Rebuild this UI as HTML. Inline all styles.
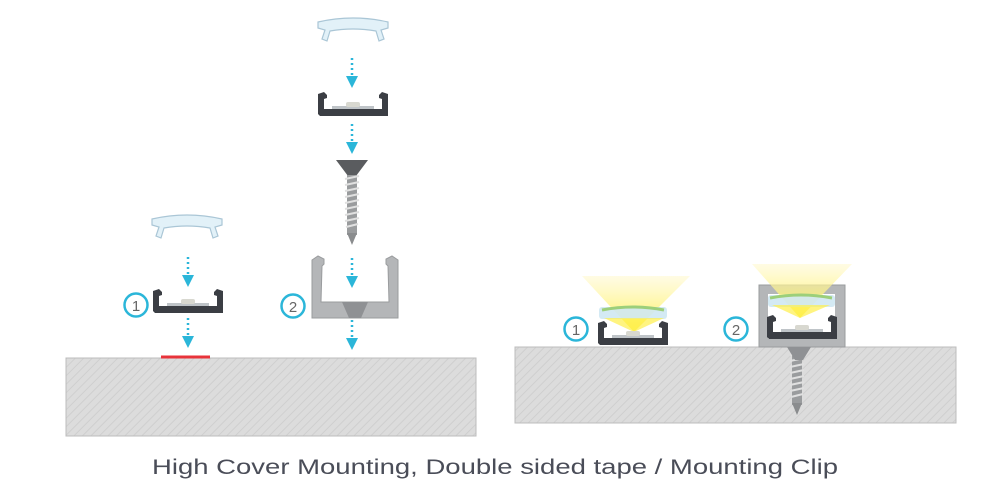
<!DOCTYPE html>
<html><head><meta charset="utf-8"><style>
html,body{margin:0;padding:0;background:#fff;width:1000px;height:500px;overflow:hidden}
</style></head><body>
<svg width="1000" height="500" viewBox="0 0 1000 500" xmlns="http://www.w3.org/2000/svg">
<defs>
<pattern id="hatch" width="6" height="6" patternUnits="userSpaceOnUse" patternTransform="rotate(45)">
<rect width="6" height="6" fill="#dcdcdc"/><line x1="0" y1="0" x2="0" y2="6" stroke="#cfcfcf" stroke-width="2"/>
</pattern>
<linearGradient id="cone" x1="0" y1="0" x2="0" y2="1">
<stop offset="0" stop-color="#fff8c8" stop-opacity="0.5"/><stop offset="1" stop-color="#fff04a"/>
</linearGradient>
<g id="cover">
<path d="M0,5 Q35,-3 70,5 L70,11 L63,13 L66,22 L61,24 L58,14 Q35,10 12,14 L9,24 L4,22 L7,13 L0,11 Z" fill="#e2f1f8" stroke="#aac6d6" stroke-width="1.2"/>
</g>
<g id="prof">
<path d="M0,2 L6,0 L9,3 L9,6 L6,7 L6,17 L64,17 L64,7 L61,6 L61,3 L64,0 L70,2 L70,24 L2,24 L0,22 Z" fill="#3b3e44"/>
<rect x="14" y="14" width="42" height="3" fill="#bfc4c8"/>
<rect x="28" y="10" width="14" height="5" rx="2" fill="#d8d8d0"/>
</g>
<g id="arrow">
<line x1="0" y1="0" x2="0" y2="20" stroke="#2bb6d9" stroke-width="2.5" stroke-dasharray="2 3"/>
<path d="M-6,18 L6,18 L0,30 Z" fill="#2bb6d9"/>
</g>
<g id="screwshaft">
<rect x="-5" y="0" width="10" height="60" fill="#9a9c9e"/>
<g stroke="#e0e0e0" stroke-width="2">
<line x1="-7" y1="4" x2="7" y2="1"/><line x1="-7" y1="10" x2="7" y2="7"/><line x1="-7" y1="16" x2="7" y2="13"/>
<line x1="-7" y1="22" x2="7" y2="19"/><line x1="-7" y1="28" x2="7" y2="25"/><line x1="-7" y1="34" x2="7" y2="31"/>
<line x1="-7" y1="40" x2="7" y2="37"/><line x1="-7" y1="46" x2="7" y2="43"/><line x1="-6" y1="52" x2="6" y2="49"/>
</g>
<path d="M-5,58 L5,58 L0,70 Z" fill="#8a8c8e"/>
</g>
<g id="clip">
<path d="M0,4 L6,0 L12,3 L12,8 L10,10 L9,46 L77,46 L76,10 L74,8 L74,3 L80,0 L86,4 L86,62 L0,62 Z" fill="#b4b6b8" stroke="#9a9c9e" stroke-width="1"/>
<path d="M30,46 L56,46 L49,62 L37,62 Z" fill="#8f9194"/>
</g>
</defs>

<rect x="66" y="358" width="410" height="78" fill="url(#hatch)" stroke="#bdbdbd"/>
<rect x="515" y="347" width="441" height="76" fill="url(#hatch)" stroke="#bdbdbd"/>
<line x1="161" y1="357" x2="210" y2="357" stroke="#e8333a" stroke-width="3"/>

<use href="#cover" x="152" y="214"/>
<use href="#arrow" x="188" y="257"/>
<use href="#prof" x="153" y="289"/>
<use href="#arrow" x="188" y="318"/>
<circle cx="136" cy="305" r="11.5" fill="#fff" stroke="#2bb6d9" stroke-width="2.5"/>
<text x="136" y="311" font-family="Liberation Sans, sans-serif" font-size="15" fill="#666" text-anchor="middle">1</text>

<use href="#cover" x="318" y="17"/>
<use href="#arrow" x="352" y="58"/>
<use href="#prof" x="318" y="92"/>
<use href="#arrow" x="352" y="124"/>
<path d="M336,160 L368,160 L356,176 L348,176 Z" fill="#5a5c5f"/>
<use href="#screwshaft" x="352" y="175"/>
<use href="#clip" x="312" y="256"/>
<use href="#arrow" x="352" y="258"/>
<use href="#arrow" x="352" y="320"/>
<circle cx="293" cy="306" r="11.5" fill="#fff" stroke="#2bb6d9" stroke-width="2.5"/>
<text x="293" y="312" font-family="Liberation Sans, sans-serif" font-size="15" fill="#666" text-anchor="middle">2</text>

<path d="M582,276 L690,276 L634,332 Z" fill="url(#cone)"/>
<rect x="599" y="307" width="68" height="12" rx="3" fill="#cfe8f3" opacity="0.9"/>
<path d="M602,310 Q633,304 664,310" stroke="#9ccf7a" stroke-width="3" fill="none"/>
<path d="M634,332 L604,318 L664,318 Z" fill="#fff04a" opacity="0.7"/>
<use href="#prof" x="598" y="321"/>
<circle cx="576" cy="329" r="11.5" fill="#fff" stroke="#2bb6d9" stroke-width="2.5"/>
<text x="576" y="335" font-family="Liberation Sans, sans-serif" font-size="15" fill="#666" text-anchor="middle">1</text>

<use href="#screwshaft" x="797" y="345"/>
<rect x="759" y="285" width="86" height="62" fill="#b4b6b8" stroke="#9a9c9e"/>
<path d="M787,347 L811,347 L803,360 L795,360 Z" fill="#8f9194"/>
<rect x="768" y="294" width="67" height="45" fill="#fff"/>
<path d="M752,264 L852,264 L800,318 Z" fill="url(#cone)"/>
<rect x="768" y="295" width="67" height="12" rx="3" fill="#cfe8f3" opacity="0.9"/>
<path d="M770,298 Q801,292 832,298" stroke="#9ccf7a" stroke-width="3" fill="none"/>
<path d="M800,318 L772,305 L830,305 Z" fill="#fff04a" opacity="0.7"/>
<use href="#prof" x="767" y="315"/>
<circle cx="736" cy="329" r="11.5" fill="#fff" stroke="#2bb6d9" stroke-width="2.5"/>
<text x="736" y="335" font-family="Liberation Sans, sans-serif" font-size="15" fill="#666" text-anchor="middle">2</text>

<text x="152" y="474" font-family="Liberation Sans, sans-serif" font-size="21" fill="#4a4d58" textLength="686" lengthAdjust="spacingAndGlyphs">High Cover Mounting, Double sided tape / Mounting Clip</text>
</svg>
</body></html>
